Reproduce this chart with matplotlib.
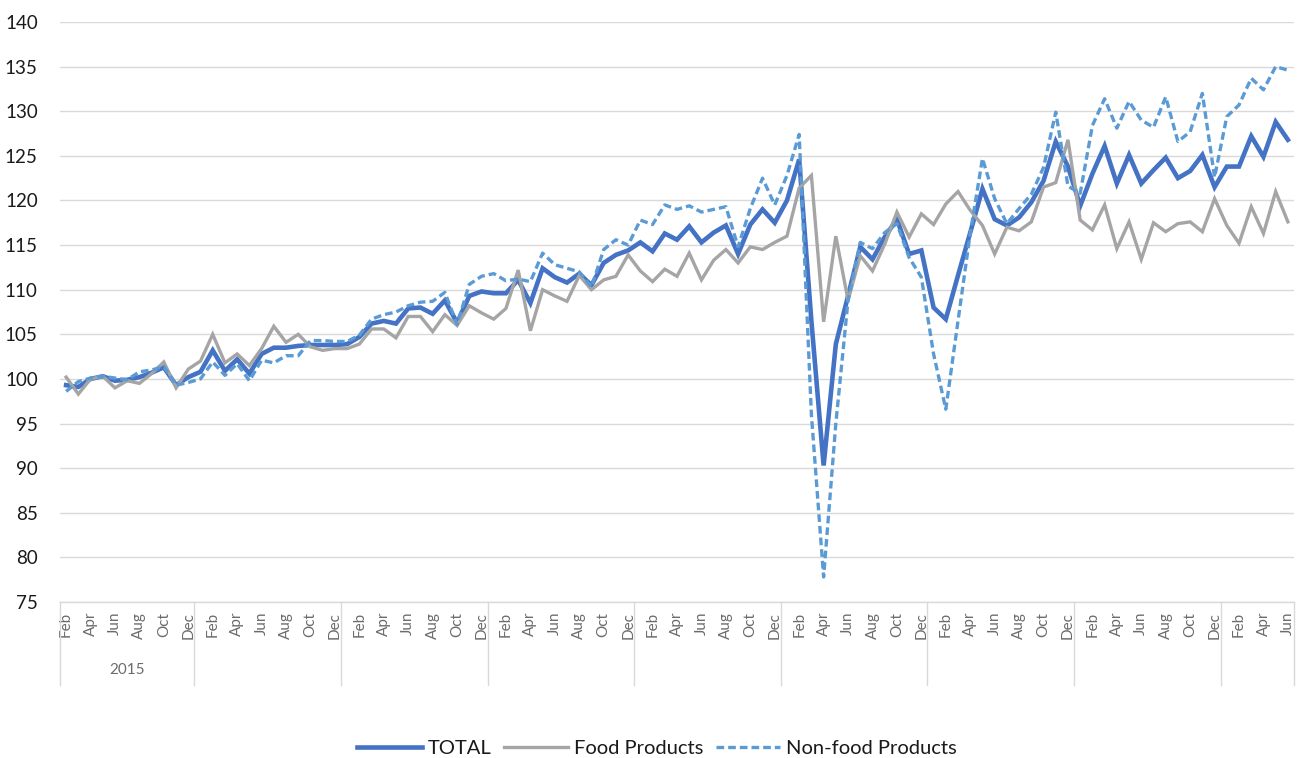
import matplotlib
matplotlib.use("Agg")
import matplotlib.pyplot as plt
import matplotlib.transforms as mtransforms
import numpy as np
import pandas as pd

# ---- data ----
periods = pd.date_range("2015-02-01", periods=101, freq="MS")
month_labels = [d.strftime("%b") for d in periods]
years = [d.year for d in periods]

total = [99.3, 99.1, 100.0, 100.3, 99.8, 99.9, 100.2, 100.7, 101.3, 99.3, 100.2,
         100.8, 103.2, 100.9, 102.2, 100.6, 102.8, 103.5, 103.5, 103.7, 103.8, 103.8, 103.8,
         103.9, 104.7, 106.2, 106.5, 106.2, 107.9, 108.0, 107.3, 108.8, 106.3, 109.3, 109.8,
         109.6, 109.6, 111.1, 108.5, 112.4, 111.4, 110.8, 111.8, 110.5, 113.0, 113.9, 114.4,
         115.3, 114.3, 116.3, 115.6, 117.1, 115.3, 116.4, 117.2, 114.0, 117.3, 119.0, 117.5,
         120.0, 124.6, 106.5, 90.3, 103.9, 109.3, 114.8, 113.4, 115.9, 117.9, 114.0, 114.4,
         108.0, 106.7, 111.6, 116.4, 121.3, 117.9, 117.2, 118.1, 119.8, 122.2, 126.6, 123.8,
         119.4, 123.0, 126.1, 121.9, 125.1, 121.9, 123.4, 124.8, 122.5, 123.3, 125.1, 121.5,
         123.8, 123.8, 127.2, 124.9, 128.8, 126.8]

food = [100.2, 98.3, 100.0, 100.3, 99.0, 99.8, 99.5, 100.6, 101.9, 99.0, 101.1,
        102.0, 105.0, 101.8, 102.8, 101.5, 103.4, 105.9, 104.1, 105.0, 103.6, 103.2, 103.4,
        103.4, 103.9, 105.6, 105.6, 104.6, 107.0, 107.0, 105.3, 107.2, 106.0, 108.2, 107.4,
        106.7, 107.9, 112.2, 105.4, 110.0, 109.3, 108.7, 111.6, 110.0, 111.1, 111.5, 113.9,
        112.1, 110.9, 112.3, 111.5, 114.1, 111.1, 113.3, 114.5, 113.0, 114.8, 114.5, 115.3,
        116.0, 121.4, 122.8, 106.4, 116.0, 108.8, 113.8, 112.1, 115.1, 118.7, 115.9, 118.5,
        117.3, 119.6, 121.0, 118.9, 117.2, 114.0, 117.0, 116.6, 117.6, 121.5, 122.0, 126.8,
        117.8, 116.7, 119.5, 114.6, 117.6, 113.4, 117.5, 116.5, 117.4, 117.6, 116.5, 120.2,
        117.2, 115.2, 119.3, 116.3, 121.0, 117.6]

nonfood = [98.6, 99.7, 100.1, 100.3, 100.1, 99.9, 100.8, 101.0, 101.4, 99.3, 99.6,
           100.0, 101.9, 100.4, 101.7, 99.8, 102.1, 101.8, 102.6, 102.6, 104.3, 104.3, 104.2,
           104.2, 104.9, 106.7, 107.2, 107.5, 108.2, 108.6, 108.7, 109.7, 106.1, 110.6, 111.5,
           111.8, 111.0, 111.2, 110.9, 114.1, 112.8, 112.4, 112.0, 110.3, 114.5, 115.6, 115.0,
           117.8, 117.3, 119.5, 119.0, 119.4, 118.7, 119.0, 119.3, 114.8, 119.1, 122.5, 119.5,
           122.8, 127.4, 96.0, 77.8, 95.0, 108.8, 115.3, 114.6, 116.4, 117.4, 113.6, 111.4,
           102.8, 96.6, 106.5, 116.3, 124.7, 120.2, 117.4, 119.1, 120.7, 123.7, 129.9, 121.6,
           120.8, 128.4, 131.4, 128.1, 131.1, 129.0, 128.2, 131.6, 126.6, 127.7, 132.0, 122.6,
           129.4, 130.7, 133.7, 132.4, 135.0, 134.6]

y_ticks = list(range(75, 141, 5))
series_names = ["TOTAL", "Food Products", "Non-food Products"]

# ---- figure ----
plt.rcParams['font.family'] = ['Lato', 'DejaVu Sans']
W, H = 1299, 758
fig = plt.figure(figsize=(W / 100, H / 100), dpi=100)
ax = fig.add_axes([60 / W, 1 - 602 / H, 1234 / W, 580 / H])

x = np.arange(len(periods))
ax.plot(x, total, color="#4472C4", lw=3.3, solid_joinstyle="miter", label=series_names[0], zorder=3)
ax.plot(x, food, color="#A5A5A5", lw=2.4, solid_joinstyle="miter", label=series_names[1], zorder=4)
ln, = ax.plot(x, nonfood, color="#5B9BD5", lw=2.4, label=series_names[2], zorder=5)
ln.set_dashes([2.3, 1.2])

ax.set_xlim(-0.5, len(periods) - 0.5)
ax.set_ylim(75, 140)
ax.set_yticks(y_ticks)
ax.set_yticklabels([str(v) for v in y_ticks], fontsize=13.5, color="#1a1a1a")
ax.grid(axis="y", color="#D9D9D9", lw=1.0)
ax.set_axisbelow(True)

ax.set_xticks(x[::2])
ax.set_xticklabels(month_labels[::2], rotation=90, fontsize=11, color="#6b6b6b")
ax.tick_params(axis="x", length=0, pad=7)
ax.tick_params(axis="y", length=0, pad=16)

for s in ["top", "right", "left"]:
    ax.spines[s].set_visible(False)
ax.spines["bottom"].set_color("#D9D9D9")
ax.spines["bottom"].set_linewidth(1.0)

# year group separators
trans = mtransforms.blended_transform_factory(ax.transData, ax.transAxes)
bounds = [-0.5]
for i in range(1, len(years)):
    if years[i] != years[i - 1]:
        bounds.append(i - 0.5)
bounds.append(len(years) - 0.5)
for b in bounds:
    ax.plot([b, b], [0, -83 / 580], transform=trans, color="#D9D9D9", lw=1.0, clip_on=False)

# only the first year label is shown in the reference
first_year_end = bounds[1]
ax.text((bounds[0] + first_year_end) / 2, -68 / 580, str(years[0]), transform=trans,
        ha="center", va="center", fontsize=11, color="#6b6b6b")

leg = fig.legend(loc="center", bbox_to_anchor=(657 / W, 1 - 748 / H), ncol=3, frameon=False,
                 fontsize=14.5, handlelength=3.2, handletextpad=0.3, columnspacing=0.6)
for t in leg.get_texts():
    t.set_color("#1a1a1a")

fig.savefig("out.png", dpi=100)
